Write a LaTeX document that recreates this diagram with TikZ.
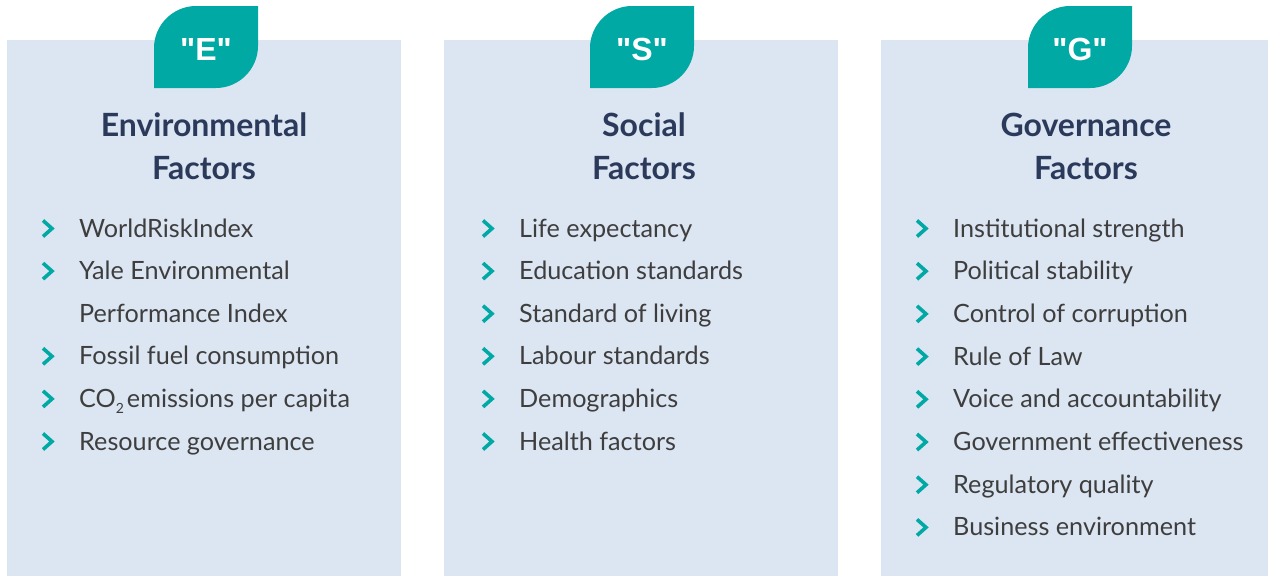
\documentclass[tikz,border=0pt]{standalone}
\usepackage{fontspec}
\setmainfont{Lato}
\newfontfamily\tabfont{Liberation Sans}
\definecolor{panelblue}{HTML}{DCE5F2}
\definecolor{esgteal}{HTML}{00A9A4}
\definecolor{titlenavy}{HTML}{2B3A5A}
\definecolor{itemgray}{HTML}{3E3E3E}
\tikzset{
  panel/.style={fill=panelblue},
  leaf/.style={fill=esgteal},
  tabtext/.style={text=white, font=\tabfont\bfseries\fontsize{32}{32}\selectfont, anchor=base, inner sep=0pt},
  heading/.style={text=titlenavy, font=\bfseries\fontsize{32}{32}\selectfont, anchor=base, inner sep=0pt},
  item/.style={text=itemgray, font=\fontsize{25.2}{25.2}\selectfont, anchor=base west, inner sep=0pt},
  chev/.style={esgteal, line width=3.6pt, line join=miter},
}
% chevron in front of a list line
\newcommand{\chevron}[1]{%
  \draw[chev] ([xshift=-36pt,yshift=16.5pt]#1.base west)
    -- ([xshift=-27pt,yshift=8.5pt]#1.base west)
    -- ([xshift=-36pt,yshift=0.5pt]#1.base west);}
\begin{document}
\begin{tikzpicture}[x=1pt,y=-1pt]
  \useasboundingbox (0,0) rectangle (1268,576);
  % the three panels
  \fill[panel] (7,40) rectangle (401,576);
  \fill[panel] (444,40) rectangle (838,576);
  \fill[panel] (881,40) rectangle (1268,576);
  % leaf shaped tabs
  \foreach \cx/\lt in {206/E,642/S,1080/G}{%
    \fill[leaf] (\cx-52,88) -- (\cx-52,48)
      .. controls (\cx-52,25) and (\cx-33,6) .. (\cx-10,6)
      -- (\cx+52,6) -- (\cx+52,46)
      .. controls (\cx+52,69) and (\cx+33,88) .. (\cx+10,88) -- cycle;
    \node[tabtext] (tab\lt) at (\cx,60) {"\lt"};}
  % headings
  \node[heading] (headE) at (204,136) {Environmental};
  \node[heading] (factE) at (204,179) {Factors};
  \node[heading] (headS) at (644,136) {Social};
  \node[heading] (factS) at (644,179) {Factors};
  \node[heading] (headG) at (1086,136) {Governance};
  \node[heading] (factG) at (1086,179) {Factors};
  % environmental list
  \foreach \t/\c [count=\i] in {WorldRiskIndex/1, Yale Environmental/1,
      Performance Index/0, Fossil fuel consumption/1,
      {CO\raisebox{-6pt}{\fontsize{14}{14}\selectfont 2}\kern3pt emissions per capita}/1,
      Resource governance/1}{%
    \node[item] (e\i) at (79,{237+42.6*(\i-1)}) {\t};
    \ifnum\c=1 \chevron{e\i}\fi}
  % social list
  \foreach \t [count=\i] in {Life expectancy, Education standards,
      Standard of living, Labour standards, Demographics, Health factors}{%
    \node[item] (s\i) at (519,{237+42.6*(\i-1)}) {\t};
    \chevron{s\i}}
  % governance list
  \foreach \t [count=\i] in {Institutional strength, Political stability,
      Control of corruption, Rule of Law, Voice and accountability,
      Government effectiveness, Regulatory quality, Business environment}{%
    \node[item] (g\i) at (953,{237+42.7*(\i-1)}) {\t};
    \chevron{g\i}}
\end{tikzpicture}
\end{document}
